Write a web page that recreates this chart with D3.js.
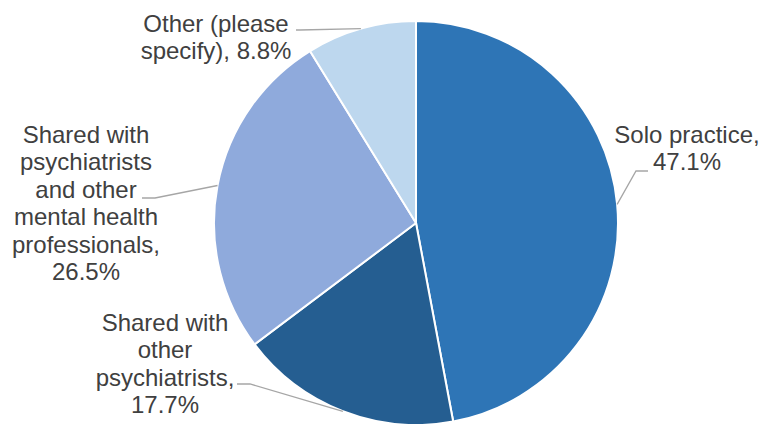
<!DOCTYPE html>
<html>
<head>
<meta charset="utf-8">
<script src="https://d3js.org/d3.v7.min.js"></script>
<style>
  body { margin: 0; background: #fff; }
  text { font-family: "Liberation Sans", Arial, sans-serif; font-size: 24px; fill: #404040; }
</style>
</head>
<body>
<div id="chart"></div>
<script>
// chart data
var categories = ["Solo practice", "Shared with other psychiatrists",
                  "Shared with psychiatrists and other mental health professionals",
                  "Other (please specify)"];
var values = [47.1, 17.7, 26.5, 8.8];
var colors = ["#2E75B6", "#255E91", "#8FAADC", "#BDD7EE"];
var labelLines = [
  ["Solo practice,", "47.1%"],
  ["Shared with", "other", "psychiatrists,", "17.7%"],
  ["Shared with", "psychiatrists", "and other", "mental health", "professionals,", "26.5%"],
  ["Other (please", "specify), 8.8%"]
];

// label layout: text centre x, first baseline y, leader elbow
var labelPos = [
  { x: 687, y: 143, elbow: [[648, 171], [636, 171]] },
  { x: 165, y: 331, elbow: [[237, 384], [250, 384]] },
  { x: 86,  y: 143, elbow: [[142, 198], [155, 198]] },
  { x: 216, y: 32,  elbow: [[296, 30], [300, 30]] }
];

var width = 761, height = 424;
var cx = 416, cy = 223, r = 202;
var lineH = 27.4;

var svg = d3.select("#chart").append("svg")
    .attr("width", width)
    .attr("height", height);

var pie = d3.pie().sort(null).value(function(d) { return d; });
var arcs = pie(values);
var arc = d3.arc().innerRadius(0).outerRadius(r);

var g = svg.append("g").attr("transform", "translate(" + cx + "," + cy + ")");

g.selectAll("path")
  .data(arcs)
  .enter().append("path")
    .attr("d", arc)
    .style("fill", function(d, i) { return colors[i]; })
    .style("stroke", "#fff")
    .style("stroke-width", 2);

// leader lines
arcs.forEach(function(d, i) {
  var mid = (d.startAngle + d.endAngle) / 2;
  var px = cx + r * Math.sin(mid), py = cy - r * Math.cos(mid);
  var pts = labelPos[i].elbow.concat([[px, py]]);
  svg.append("path")
    .attr("d", d3.line()(pts))
    .style("fill", "none")
    .style("stroke", "#A6A6A6")
    .style("stroke-width", 1.3);
});

// labels
labelLines.forEach(function(lines, i) {
  var t = svg.append("text")
    .attr("text-anchor", "middle")
    .attr("x", labelPos[i].x)
    .attr("y", labelPos[i].y);
  lines.forEach(function(l, j) {
    t.append("tspan")
      .attr("x", labelPos[i].x)
      .attr("dy", j === 0 ? 0 : lineH)
      .text(l);
  });
});
</script>
</body>
</html>
